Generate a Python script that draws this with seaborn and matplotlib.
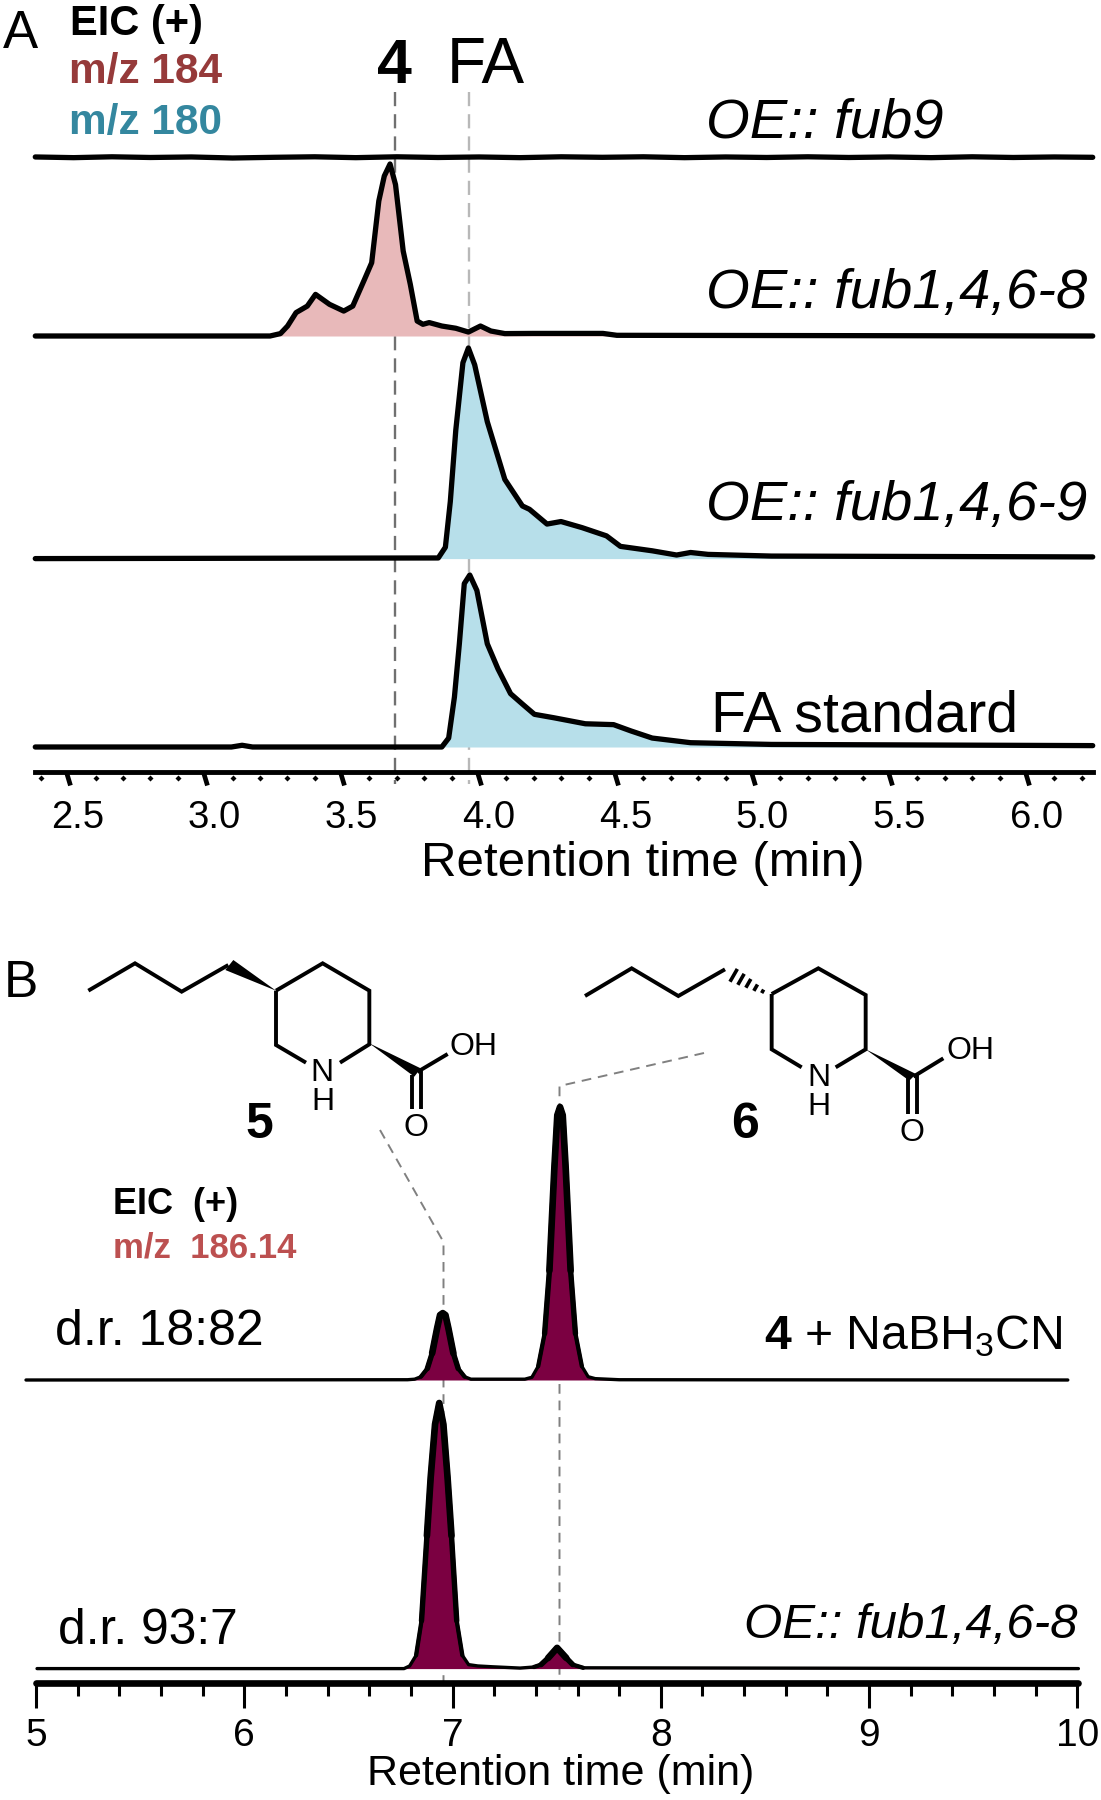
import matplotlib
matplotlib.use("Agg")
import matplotlib.pyplot as plt
import numpy as np
import seaborn as sns
from matplotlib.path import Path
from matplotlib.ticker import FixedLocator, MultipleLocator

# Panel A traces, time in minutes and signal in % of the tallest peak
fub9_time = [2.38, 2.52, 2.66, 2.80, 2.95, 3.10, 3.25, 3.40, 3.55, 3.70, 3.85, 4.00, 4.15, 4.30,
             4.45, 4.60, 4.75, 4.90, 5.05, 5.20, 5.35, 5.50, 5.65, 5.80, 5.95, 6.10, 6.24]
fub9_signal = [0.6, 0.2, 0.7, 0.3, 0.6, 0.0, 0.4, 0.7, 0.2, 0.7, 0.3, 0.6, 0.2, 0.7,
               0.4, 0.7, 0.2, 0.6, 0.3, 0.7, 0.3, 0.6, 0.2, 0.7, 0.3, 0.6, 0.4]

fub8_time = [2.38, 3.237, 3.275, 3.301, 3.332, 3.373, 3.403, 3.454, 3.506, 3.539, 3.582, 3.608,
             3.634, 3.654, 3.675, 3.695, 3.723, 3.749, 3.774, 3.795, 3.818, 3.864, 3.915, 3.961,
             4.005, 4.043, 4.094, 4.197, 4.452, 4.503, 6.24]
fub8_signal = [0, 0, 1.4, 5.8, 13.6, 17.4, 24.2, 18.4, 14.5, 17.4, 33, 42.6,
               78.5, 93, 100, 88, 49.4, 30, 8.7, 6.8, 7.8, 5.8, 4.5, 2.3,
               5.8, 2.9, 1.4, 1.5, 1.5, 0.4, 0]

fub69_time = [2.38, 3.851, 3.877, 3.895, 3.915, 3.941, 3.961, 3.984, 4.030, 4.094, 4.158, 4.184,
              4.248, 4.299, 4.376, 4.465, 4.516, 4.555, 4.632, 4.721, 4.772, 4.836, 5.067, 6.24]
fub69_signal = [0, 0.3, 5.4, 27.1, 61, 93, 100, 92, 65, 37.6, 25, 23.4,
                16.4, 17.6, 14.7, 10.8, 5.8, 5.1, 3.7, 1.7, 2.9, 2, 1.2, 0.8]

std_time = [2.38, 3.096, 3.135, 3.173, 3.864, 3.889, 3.910, 3.928, 3.946, 3.966, 3.992, 4.030,
            4.069, 4.115, 4.158, 4.202, 4.273, 4.388, 4.491, 4.555, 4.632, 4.772, 5.067, 6.24]
std_signal = [0, 0, 1, 0, 0, 5.2, 29, 60, 95, 100, 91, 60,
              45.4, 31, 25, 19, 17, 13.5, 13, 9.3, 5.2, 2.5, 1.5, 0.8]

# Panel B traces
reduced_time = [4.952, 6.784, 6.818, 6.848, 6.879, 6.902, 6.926, 6.940, 6.953, 6.966, 6.980, 7.004,
                7.027, 7.058, 7.088, 7.347, 7.381, 7.411, 7.442, 7.465, 7.489, 7.503, 7.516, 7.529,
                7.543, 7.567, 7.590, 7.621, 7.651, 7.685, 7.80, 9.954]
reduced_signal = [0, 0.1, 0.3, 1.2, 4.2, 9.8, 19, 23.8, 24.5, 23.8, 19, 9.8,
                  4.2, 1.2, 0.3, 0.3, 1, 5, 17, 40, 78, 97, 100, 97,
                  78, 40, 17, 5, 1.2, 0.5, 0.1, 0]

oe_time = [5.005, 6.767, 6.794, 6.825, 6.851, 6.877, 6.895, 6.916, 6.936, 6.956, 6.976, 6.995,
           7.020, 7.047, 7.077, 7.121, 7.189, 7.324, 7.391, 7.425, 7.459, 7.502, 7.546, 7.577,
           7.627, 10.005]
oe_signal = [0, 0, 1, 5, 18, 50, 72, 92, 100, 92, 72, 50,
             18, 5, 1.5, 1, 0.7, 0.2, 0.6, 1.5, 4, 7.8, 4, 1.5,
             0.3, 0]

a_major_ticks = [2.5, 3.0, 3.5, 4.0, 4.5, 5.0, 5.5, 6.0]
a_tick_labels = ["2.5", "3.0", "3.5", "4.0", "4.5", "5.0", "5.5", "6.0"]
b_major_ticks = [5, 6, 7, 8, 9, 10]
b_tick_labels = ["5", "6", "7", "8", "9", "10"]
b_peak_windows = [(6.75, 7.10), (7.34, 7.70)]

PINK = "#e8b9ba"
BLUE = "#b7dfea"
MAROON = "#7b0041"

sns.set_theme(style="white")
plt.rcParams["font.family"] = ["Liberation Sans", "DejaVu Sans"]
plt.rcParams["text.color"] = "black"
plt.rcParams["mathtext.fontset"] = "custom"
plt.rcParams["mathtext.rm"] = "Liberation Sans"
plt.rcParams["mathtext.bf"] = "Liberation Sans:bold"
plt.rcParams["mathtext.it"] = "Liberation Sans:italic"

W, H = 1101, 1800


def px_axes(fig, x0, x1, top, bottom):
    """Axes placed by pixel box, measured from the top left of the figure"""
    ax = fig.add_axes([x0 / W, 1 - bottom / H, (x1 - x0) / W, (bottom - top) / H], zorder=2)
    ax.patch.set_visible(False)
    return ax


def draw_trace(ax, time, signal, color, xlim, ylim, lw=3.8):
    """One chromatogram, filled under the curve"""
    if color is not None:
        ax.fill_between(time, 0, signal, color=color, linewidth=0, clip_on=False)
    sns.lineplot(x=time, y=signal, ax=ax, color="black", linewidth=lw,
                 errorbar=None, clip_on=False)
    ax.set_xlim(*xlim)
    ax.set_ylim(*ylim)
    ax.set_xlabel("")
    ax.set_ylabel("")
    ax.set_yticks([])
    sns.despine(ax=ax, left=True, bottom=True)
    ax.set_xticks([])


def draw_panel_a(fig):
    """Four stacked traces and the odd slanted axis"""
    xlim = (2.379, 6.241)

    ax = px_axes(fig, 35, 1093, 108, 158)
    draw_trace(ax, fub9_time, fub9_signal, None, xlim, (0, 100 * 50 / 172))

    ax = px_axes(fig, 35, 1093, 164, 336)
    draw_trace(ax, fub8_time, fub8_signal, PINK, xlim, (0, 100))

    ax = px_axes(fig, 35, 1093, 348, 558.6)
    draw_trace(ax, fub69_time, fub69_signal, BLUE, xlim, (0, 100))

    ax = px_axes(fig, 35, 1093, 575, 772)
    draw_trace(ax, std_time, std_signal, BLUE, xlim, (-25 / 172 * 100, 100))

    ax.spines["bottom"].set_visible(True)
    ax.spines["bottom"].set_linewidth(3.5)
    ax.spines["bottom"].set_color("black")
    ax.set_xticks(a_major_ticks)
    ax.set_xticklabels(a_tick_labels)
    ax.xaxis.set_minor_locator(FixedLocator(
        [v / 10 for v in range(24, 63) if v % 5 != 0]))
    ax.tick_params(axis="x", which="both", bottom=True, length=1, pad=19,
                   labelsize=27.5, color="black", labelcolor="black")

    slant = Path([(-0.15, 0), (0.15, -1)], [Path.MOVETO, Path.LINETO])
    for tick in ax.xaxis.get_major_ticks():
        tick.tick1line.set_marker(slant)
        tick.tick1line.set_markersize(18.7)
        tick.tick1line.set_markeredgewidth(3.4)
    diamond = Path([(-1, -2), (0, -1), (1, -2), (0, -3), (-1, -2)])
    for tick in ax.xaxis.get_minor_ticks():
        tick.tick1line.set_marker(diamond)
        tick.tick1line.set_markersize(13)
        tick.tick1line.set_markeredgewidth(0)
        tick.tick1line.set_markerfacecolor("black")
    for label in ax.get_xticklabels():
        label.set_transform(label.get_transform() + matplotlib.transforms.ScaledTranslation(
            9.5 / 100, 0, fig.dpi_scale_trans))


def draw_panel_b(fig):
    """Two traces over the thick ruler axis"""
    xlim = (5, 10.003)

    ax = px_axes(fig, 36, 1078, 1107, 1380)
    draw_trace(ax, reduced_time, reduced_signal, MAROON, xlim, (0, 100), lw=2.4)
    draw_peak_strokes(ax, reduced_time, reduced_signal)

    ax = px_axes(fig, 36, 1078, 1403, 1683.3)
    draw_trace(ax, oe_time, oe_signal, MAROON, xlim, (-14.7 / 265.6 * 100, 100), lw=2.4)
    draw_peak_strokes(ax, oe_time, oe_signal)

    ax.spines["bottom"].set_visible(True)
    ax.spines["bottom"].set_linewidth(4.8)
    ax.spines["bottom"].set_color("black")
    ax.spines["bottom"].set_capstyle("round")
    ax.set_xticks(b_major_ticks)
    ax.set_xticklabels(b_tick_labels)
    ax.xaxis.set_minor_locator(MultipleLocator(0.2))
    ax.tick_params(axis="x", which="major", bottom=True, length=18, width=2.2, pad=7,
                   labelsize=28, color="black", labelcolor="black")
    ax.tick_params(axis="x", which="minor", bottom=True, length=9, width=2.2, color="black")


def draw_peak_strokes(ax, time, signal):
    """Peak flanks are printed heavier than the baseline, getting heavier as they climb"""
    time = np.array(time)
    signal = np.array(signal)
    for start, end in b_peak_windows:
        window = (time >= start) & (time <= end)
        if signal[window].max() < 6:
            continue
        peak = signal[window].max()
        for share, width in [(0.02, 3.1), (0.08, 3.9), (0.2, 4.8)]:
            keep = window & (signal >= share * peak)
            sns.lineplot(x=time[keep], y=signal[keep], ax=ax, color="black", linewidth=width,
                         errorbar=None, clip_on=False)
    ax.set_xlabel("")
    ax.set_ylabel("")


def bond(ov, pts, origin, lw=2.8):
    x = [origin[0] + p[0] / 3 for p in pts]
    y = [origin[1] + p[1] / 3 for p in pts]
    ov.plot(x, y, color="black", lw=lw, solid_capstyle="butt", solid_joinstyle="miter")


def wedge(ov, pts, origin):
    x = [origin[0] + p[0] / 3 for p in pts]
    y = [origin[1] + p[1] / 3 for p in pts]
    ov.fill(x, y, color="black", lw=0)


def draw_structure(ov, origin, chain, ring, wedge_pts, oh_bond, double_a, double_b,
                   n_xy, h_xy, oh_xy, o_xy):
    bond(ov, chain, origin)
    bond(ov, ring[0], origin)
    bond(ov, ring[1], origin)
    wedge(ov, wedge_pts, origin)
    bond(ov, oh_bond, origin)
    bond(ov, double_a, origin)
    bond(ov, double_b, origin)
    for s, xy in (("N", n_xy), ("H", h_xy), ("OH", oh_xy), ("O", o_xy)):
        ov.text(origin[0] + xy[0] / 3, origin[1] + xy[1] / 3, s, fontsize=23,
                ha="center", va="center")


def draw_overlay(fig):
    """Labels, guide lines and the two structures, in pixel coordinates"""
    ov = fig.add_axes([0, 0, 1, 1], zorder=0)
    ov.set_xlim(0, W)
    ov.set_ylim(H, 0)
    ov.axis("off")

    # guide lines
    ov.plot([395, 395], [92, 784], color="#707070", lw=1.7, ls=(0, (6, 3.4)))
    ov.plot([469, 469], [92, 784], color="#b8b8b8", lw=1.7, ls=(0, (6, 3.4)))
    ov.plot([380, 443.5, 443.5], [1130, 1242, 1690], color="#808080", lw=1.4, ls=(0, (5, 3.5)))
    ov.plot([704, 559.5, 559.5], [1053, 1086, 1690], color="#808080", lw=1.4, ls=(0, (5, 3.5)))

    # panel A text
    ov.text(3, 48, "A", fontsize=38)
    ov.text(70, 35, "EIC (+)", fontsize=30, fontweight="bold")
    ov.text(69, 83, "m/z 184", fontsize=30.5, fontweight="bold", color="#963a3a")
    ov.text(69, 134, "m/z 180", fontsize=30.5, fontweight="bold", color="#34879f")
    ov.text(394, 83, "4", fontsize=45, fontweight="bold", ha="center")
    ov.text(447, 83, "FA", fontsize=46)
    ov.text(706, 137, "OE:: fub9", fontsize=40.5, style="italic")
    ov.text(706, 308, "OE:: fub1,4,6-8", fontsize=40.5, style="italic")
    ov.text(706, 520, "OE:: fub1,4,6-9", fontsize=40.5, style="italic")
    ov.text(711, 731, "FA standard", fontsize=41.4)
    ov.text(643, 864, "Retention time (min)", fontsize=35.5, ha="center", va="center")

    # panel B text
    ov.text(4, 997, "B", fontsize=37)
    ov.text(113, 1214, "EIC  (+)", fontsize=26, fontweight="bold")
    ov.text(113, 1258, "m/z  186.14", fontsize=25, fontweight="bold", color="#bc5050")
    ov.text(259, 1138, "5", fontsize=36, fontweight="bold", ha="center")
    ov.text(745, 1138, "6", fontsize=36, fontweight="bold", ha="center")
    ov.text(55, 1345, "d.r. 18:82", fontsize=36)
    ov.text(58, 1644, "d.r. 93:7", fontsize=35.8)
    ov.text(1062, 1349, r"$\mathbf{4}$ + NaBH$_{\mathrm{3}}$CN", fontsize=34.7, ha="right")
    ov.text(1077, 1638, "OE:: fub1,4,6-8", fontsize=35.5, style="italic", ha="right")
    ov.text(561, 1774, "Retention time (min)", fontsize=31, ha="center", va="center")

    # compound 5
    draw_structure(
        ov, (80, 950),
        chain=[(25, 122), (165, 40), (305, 125), (445, 45)],
        ring=[[(588, 122), (728, 40), (868, 122), (868, 283), (780, 338)],
              [(588, 122), (588, 285), (678, 338)]],
        wedge_pts=[(868, 280), (1022, 355), (1003, 380)],
        oh_bond=[(1012, 366), (1103, 312)],
        double_a=[(995, 375), (995, 478)],
        double_b=[(1022, 362), (1022, 478)],
        n_xy=(725, 368), h_xy=(728, 455), oh_xy=(1181, 290), o_xy=(1008, 535))
    wedge(ov, [(588, 122), (460, 30), (436, 60)], (80, 950))

    # compound 6
    draw_structure(
        ov, (580, 950),
        chain=[(15, 138), (155, 55), (295, 138), (435, 58)],
        ring=[[(575, 132), (715, 55), (857, 135), (857, 298), (767, 352)],
              [(575, 132), (575, 298), (665, 352)]],
        wedge_pts=[(857, 298), (1008, 372), (988, 392)],
        oh_bond=[(1000, 380), (1090, 325)],
        double_a=[(983, 385), (983, 492)],
        double_b=[(1010, 372), (1010, 492)],
        n_xy=(717, 385), h_xy=(717, 470), oh_xy=(1170, 303), o_xy=(997, 548))
    # hashed bond, bars widen towards the chain
    for cx, cy, half in [(548, 124, 6), (527, 113, 11), (505, 100, 15),
                         (483, 88, 19), (461, 76, 22)]:
        bond(ov, [(cx + half * 0.5, cy - half * 0.87), (cx - half * 0.5, cy + half * 0.87)],
             (580, 950), lw=2.6)


def main():
    fig = plt.figure(figsize=(W / 100, H / 100), dpi=100)
    draw_overlay(fig)
    draw_panel_a(fig)
    draw_panel_b(fig)
    fig.savefig("out.png", dpi=100)


if __name__ == "__main__":
    main()
